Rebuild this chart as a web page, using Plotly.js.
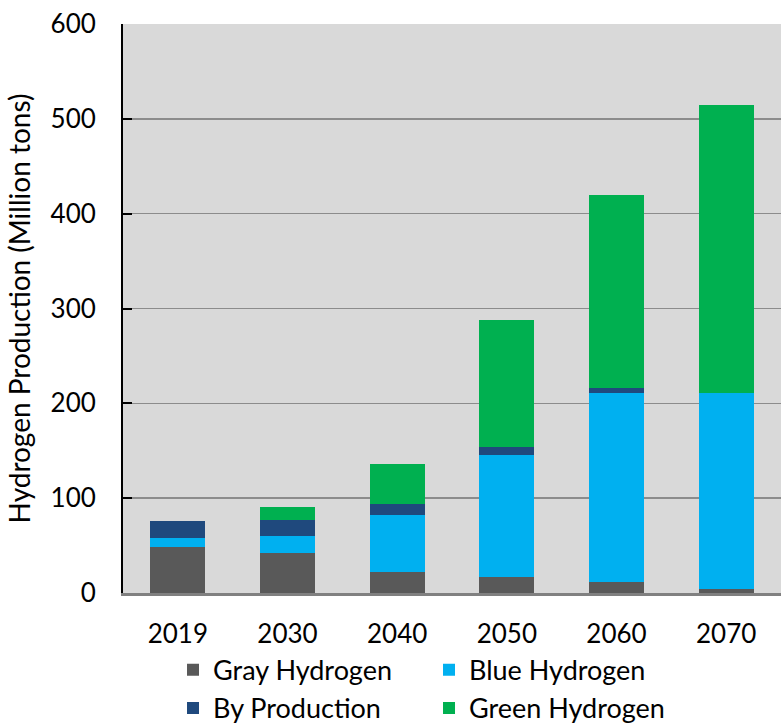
<!DOCTYPE html>
<html>
<head>
<meta charset="utf-8">
<script src="https://cdn.plot.ly/plotly-3.0.1.min.js"></script>
<style>html,body{margin:0;padding:0;background:#fff;}#chart{width:781px;height:724px;}</style>
</head>
<body>
<div id="chart"></div>
<script>
var years = ['2019', '2030', '2040', '2050', '2060', '2070'];
var grayHydrogen = [48, 42.5, 22, 17, 12, 4.5];
var blueHydrogen = [10, 18, 60.5, 128.5, 199, 206];
var byProduction = [18, 16, 11.5, 8, 5.5, 0];
var greenHydrogen = [0, 14, 42.5, 134.5, 203, 304];
var yTicks = [0, 100, 200, 300, 400, 500, 600];

var FONT = 'Lato, "Open Sans", sans-serif';

function trace(name, vals, color) {
  return {type: 'bar', name: name, x: years, y: vals,
    marker: {color: color, line: {width: 0}}, hoverinfo: 'x+y+name'};
}

var data = [
  trace('Gray Hydrogen', grayHydrogen, '#595959'),
  trace('Blue Hydrogen', blueHydrogen, '#00b0f0'),
  trace('By Production', byProduction, '#1f497d'),
  trace('Green Hydrogen', greenHydrogen, '#00b050')
];

var layout = {
  width: 781, height: 724,
  margin: {l: 123, r: 0, t: 24, b: 131},
  paper_bgcolor: '#ffffff',
  plot_bgcolor: '#d9d9d9',
  barmode: 'stack',
  bargap: 0.5,
  font: {family: FONT, color: '#000', size: 26},
  xaxis: {
    type: 'category', range: [-0.5, 5.5],
    showline: true, linecolor: '#808080', linewidth: 3,
    ticks: '', showgrid: false, zeroline: false,
    tickfont: {size: 26, family: FONT, color: '#000'},
    ticklabelstandoff: 16
  },
  yaxis: {
    range: [0, 600], tickvals: yTicks,
    showline: true, linecolor: '#000', linewidth: 2,
    ticks: 'inside', ticklen: 9, tickwidth: 2, tickcolor: '#000',
    showgrid: true, gridcolor: '#8c8c8c', gridwidth: 1.5,
    zeroline: false,
    tickfont: {size: 26, family: FONT, color: '#000'},
    ticklabelstandoff: 20,
    title: {text: 'Hydrogen Production (Million tons)', font: {size: 28, family: FONT, color: '#000'}, standoff: 12}
  },
  showlegend: true,
  legend: {
    orientation: 'h', traceorder: 'normal',
    x: 0.076, xanchor: 'left',
    yref: 'container', y: 0.108, yanchor: 'top',
    entrywidth: 211, entrywidthmode: 'pixels',
    font: {size: 27, family: FONT, color: '#000'},
    bgcolor: 'rgba(0,0,0,0)'
  }
};

Plotly.newPlot('chart', data, layout, {displayModeBar: false, staticPlot: true});
</script>
</body>
</html>
